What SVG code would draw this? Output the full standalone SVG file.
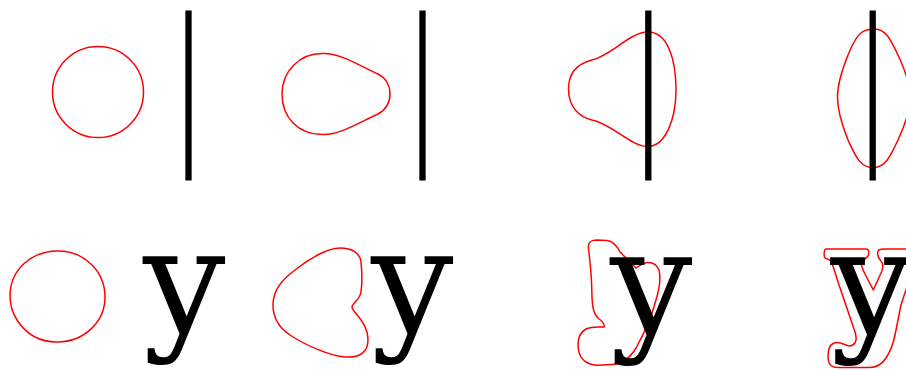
<svg xmlns="http://www.w3.org/2000/svg" width="906" height="370" viewBox="0 0 906 370">
<style>
.bar{stroke:#000;stroke-width:6.3;fill:none}
.blob{stroke:#ff0000;stroke-width:1.5;fill:none;stroke-linejoin:round}
.glyph{font-family:"DejaVu Serif",serif;font-weight:normal;font-size:146px;fill:#000}
</style>
<rect width="906" height="370" fill="#fff"/>
<g id="top-1">
<circle class="blob" cx="98" cy="92" r="45.5"/>
<line class="bar" x1="188.5" y1="10.5" x2="188.5" y2="180.5"/>
</g>
<g id="top-2">
<path class="blob" d="M323,53.5 C340,53 360,66 378,74 C394,82 394,105 378,114 C360,122 340,135 323,134.5 C298,135 282,117 282,94 C282,71 300,53 323,53.5 Z"/>
<line class="bar" x1="422.5" y1="10.5" x2="422.5" y2="180.5"/>
</g>
<g id="top-3">
<path class="blob" d="M568.5,89 C568.5,70 580,63 592,60 C612,55 630,32 648,32 C668,32 676,60 676,90 C676,120 665,146 648,146.5 C632,147 612,124 592,120 C580,117 568.5,108 568.5,89 Z"/>
<line class="bar" x1="648.3" y1="10.5" x2="648.3" y2="180.5"/>
</g>
<g id="top-4">
<path class="blob" d="M873,29 C885,28 890,38 898,55 C905,70 910,85 910,97 C910,110 905,125 898,140 C890,157 885,168 873,167.5 C860,168 855,155 848,140 C842,125 837.5,110 837.5,97 C837.5,85 842,70 848,55 C855,38 860,29 873,29 Z"/>
<line class="bar" x1="872.7" y1="10.5" x2="872.7" y2="180.5"/>
</g>
<g id="bottom-1">
<path class="blob" d="M58,251 C84,251 105,271 105,297 C105,322 84,342 57,342 C40,342 26,334 17,320 C12,312 10,305 10,296 C10,270 31,251 58,251 Z"/>
<text class="glyph" x="143" y="332.5">y</text>
</g>
<g id="bottom-2">
<path class="blob" d="M340,248 C352,248 360,253 361,262 C362,272 362,285 361,292 C360,300 352,303 352,307 C352,312 368,322 368,340 C368,352 360,358 345,357 C330,356 305,345 290,335 C278,327 273,318 273,305 C273,290 282,280 295,270 C310,258 328,248 340,248 Z"/>
<text class="glyph" x="371" y="333">y</text>
</g>
<g id="bottom-3">
<path class="blob" d="M588.3,246 C589,241 592,240 597,240 L607,240.5 C612,241 616,244 620,252 L636,268 C639,266 643,263 647,262.5 C653,262 657,265 659,270 C661,278 659,290 656,300 C652,315 645,332 636,348 C630,358 622,364 612,364.5 L598,365.3 C588,365 580,360 578.5,350 C577,340 579,333 586,329 C592,326 600,327 604,327 C605,324 602,321 598,318 C593,313 592,305 591.8,290 C591.5,270 589,255 588.3,246 Z"/>
<text class="glyph" x="610" y="333.5">y</text>
</g>
<g id="bottom-4">
<path class="blob" d="M826,249 L866,249 C869,249 869.5,253 868,256 C866,259 862,260 861.5,263 C861,266 863,270 865,274 L873.3,290 L881.5,272 C883,268 884,264 881,261 C878,258 877,255 878,251 C879,249 881,249 884,249 L915,249 L915,262 L901,305 L895,335 C893,345 890,352 886,358 C882,364 877,367.5 870,367.5 L838,367.5 C833,367.5 829,365 828.3,360 C827.5,352 829,346 833,343.5 C837,341 842,343 846,345 C850,347 853,346 855.5,342 C857,338 856,334 854,329 L838,282 L833,266 C832,261 829,259 826,258.5 C823.5,258 823.5,250 826,249 Z"/>
<text class="glyph" x="830.5" y="334">y</text>
</g>
</svg>
